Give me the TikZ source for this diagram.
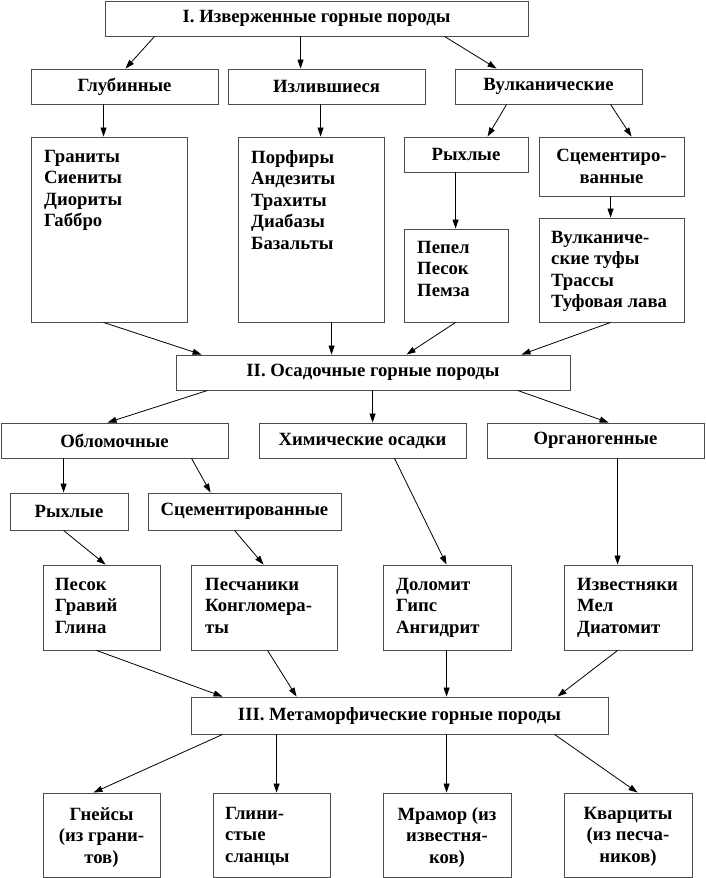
\documentclass[tikz,border=0pt]{standalone}
\usepackage{fontspec}
\setmainfont{Liberation Serif}
\usetikzlibrary{arrows.meta}
\newcommand\rbox[6]{\node[box,minimum width={(#4-#2)*1pt},minimum height={(#5-#3)*1pt}] (#1) at ({(#2+#4)/2},{(#3+#5)/2}) {#6};}
\begin{document}
\begin{tikzpicture}[x=1pt,y=-1pt,
  box/.style={draw=black!70,line width=0.9pt,inner sep=0pt,align=center,font=\bfseries\fontsize{18.7}{21.5}\selectfont},
  lst/.style={inner sep=0pt,align=left,font=\bfseries\fontsize{18.7}{21.5}\selectfont},
  lstc/.style={inner sep=0pt,align=center,font=\bfseries\fontsize{18.7}{21.5}\selectfont},
  arr/.style={-{Triangle[length=9pt,width=6pt]},line width=0.8pt,black}]
\fill[white] (0,0) rectangle (705,878);
\useasboundingbox (0,0) rectangle (705,878);
% level I
\rbox{I}{105}{1}{528}{36}{I. Изверженные горные породы}
\rbox{gl}{31}{69}{218}{104}{Глубинные}
\rbox{iz}{228}{69}{425}{104}{Излившиеся}
\rbox{vu}{455}{69}{642}{104}{Вулканические}
\rbox{gr}{31}{137}{187}{322}{}
\rbox{po}{238}{137}{384}{322}{}
\rbox{ryA}{404}{137}{528}{172}{Рыхлые}
\rbox{scA}{539}{137}{684}{196}{Сцементиро-\\ванные}
\rbox{pe}{404}{229}{508}{322}{}
\rbox{vt}{539}{218}{684}{322}{}
\node[lst,anchor=north west] (grT) at (44,150) {Граниты\\Сиениты\\Диориты\\Габбро};
\node[lst,anchor=north west] (poT) at (251,150) {Порфиры\\Андезиты\\Трахиты\\Диабазы\\Базальты};
\node[lst,anchor=north west] (peT) at (417,241) {Пепел\\Песок\\Пемза};
\node[lst,anchor=north west] (vtT) at (551,231) {Вулканиче-\\ские туфы\\Трассы\\Туфовая лава};
% level II
\rbox{II}{176}{355}{570}{390}{II. Осадочные горные породы}
\rbox{ob}{1}{423}{228}{458}{Обломочные}
\rbox{hi}{259}{423}{466}{458}{Химические осадки}
\rbox{or}{487}{423}{704}{458}{Органогенные}
\rbox{ryB}{10}{493}{128}{530}{Рыхлые}
\rbox{scB}{148}{493}{341}{530}{Сцементированные}
\rbox{pk}{43}{565}{160}{650}{}
\rbox{pc}{191}{565}{337}{650}{}
\rbox{do}{383}{565}{511}{650}{}
\rbox{iv}{564}{565}{692}{650}{}
\node[lst,anchor=north west] (pkT) at (55,578) {Песок\\Гравий\\Глина};
\node[lst,anchor=north west] (pcT) at (205,578) {Песчаники\\Конгломера-\\ты};
\node[lst,anchor=north west] (doT) at (396,578) {Доломит\\Гипс\\Ангидрит};
\node[lst,anchor=north west] (ivT) at (577,578) {Известняки\\Мел\\Диатомит};
% level III
\rbox{III}{191}{697}{608}{734}{III. Метаморфические горные породы}
\rbox{gn}{43}{793}{160}{877}{}
\rbox{glB}{213}{793}{330}{877}{}
\rbox{mr}{383}{793}{511}{877}{}
\rbox{kv}{564}{793}{692}{877}{}
\node[lstc,anchor=north] (gnT) at (101.5,807) {Гнейсы\\(из грани-\\тов)};
\node[lst,anchor=north west] (glT) at (225,807) {Глини-\\стые\\сланцы};
\node[lstc,anchor=north] (mrT) at (447,807) {Мрамор (из\\известня-\\ков)};
\node[lstc,anchor=north] (kvT) at (628,807) {Кварциты\\(из песча-\\ников)};
% arrows level I
\draw[arr] ([xshift=50pt]I.south west) -- ([xshift=95pt]gl.north west);
\draw[arr] ([xshift=196pt]I.south west) -- ([xshift=73pt]iz.north west);
\draw[arr] ([xshift=340pt]I.south west) -- ([xshift=42pt]vu.north west);
\draw[arr] ([xshift=73pt]gl.south west) -- ([xshift=73pt]gr.north west);
\draw[arr] ([xshift=93pt]iz.south west) -- ([xshift=83pt]po.north west);
\draw[arr] ([xshift=52pt]vu.south west) -- ([xshift=84pt]ryA.north west);
\draw[arr] ([xshift=156pt]vu.south west) -- ([xshift=93pt]scA.north west);
\draw[arr] ([xshift=52pt]ryA.south west) -- ([xshift=52pt]pe.north west);
\draw[arr] ([xshift=72pt]scA.south west) -- ([xshift=72pt]vt.north west);
% into II
\draw[arr] ([xshift=73pt]gr.south west) -- ([xshift=26pt]II.north west);
\draw[arr] ([xshift=94pt]po.south west) -- ([xshift=156pt]II.north west);
\draw[arr] ([xshift=52pt]pe.south west) -- ([xshift=231pt]II.north west);
\draw[arr] ([xshift=72pt]vt.south west) -- ([xshift=346pt]II.north west);
% from II
\draw[arr] ([xshift=32pt]II.south west) -- ([xshift=107pt]ob.north west);
\draw[arr] ([xshift=197pt]II.south west) -- ([xshift=114pt]hi.north west);
\draw[arr] ([xshift=342pt]II.south west) -- ([xshift=122pt]or.north west);
\draw[arr] ([xshift=63pt]ob.south west) -- ([xshift=54pt]ryB.north west);
\draw[arr] ([xshift=191pt]ob.south west) -- ([xshift=63pt]scB.north west);
\draw[arr] ([xshift=136pt]hi.south west) -- ([xshift=64pt]do.north west);
\draw[arr] ([xshift=131pt]or.south west) -- ([xshift=54pt]iv.north west);
\draw[arr] ([xshift=54pt]ryB.south west) -- ([xshift=63pt]pk.north west);
\draw[arr] ([xshift=87pt]scB.south west) -- ([xshift=73pt]pc.north west);
% into III
\draw[arr] ([xshift=54pt]pk.south west) -- ([xshift=32pt]III.north west);
\draw[arr] ([xshift=77pt]pc.south west) -- ([xshift=106pt]III.north west);
\draw[arr] ([xshift=64pt]do.south west) -- ([xshift=256pt]III.north west);
\draw[arr] ([xshift=54pt]iv.south west) -- ([xshift=367pt]III.north west);
% from III
\draw[arr] ([xshift=32pt]III.south west) -- ([xshift=51pt]gn.north west);
\draw[arr] ([xshift=86pt]III.south west) -- ([xshift=64pt]glB.north west);
\draw[arr] ([xshift=256pt]III.south west) -- ([xshift=64pt]mr.north west);
\draw[arr] ([xshift=364pt]III.south west) -- ([xshift=74pt]kv.north west);
\end{tikzpicture}
\end{document}
